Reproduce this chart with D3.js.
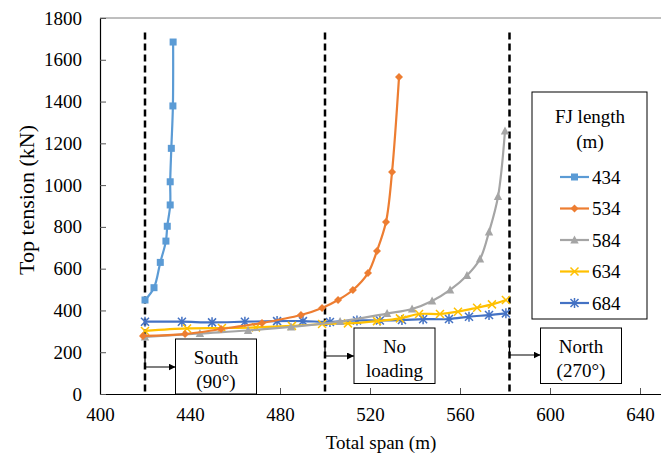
<!DOCTYPE html>
<html><head><meta charset="utf-8">
<script src="https://cdn.jsdelivr.net/npm/d3@7"></script>
<style>body{margin:0;background:#fff}svg{display:block}text{font-family:"Liberation Serif","Times New Roman",serif;fill:#000}</style>
</head><body><svg id="c" width="661" height="454"></svg>
<script>
const seriesNames = ["434","534","584","634","684"];
const seriesColors = ["#5B9BD5","#ED7D31","#A5A5A5","#FFC000","#4472C4"];
const seriesMarkers = ["square","diamond","triangle","x","star"];
const span434 = [420,424,426.8,429.3,429.9,431.2,431.2,431.7,432.4,432.5];
const ten434  = [450,509,630,732,803,905,1016,1176,1379,1685];
const span534 = [419.1,437.8,453.8,472,489.3,498.7,505.8,512.4,519.1,523.1,527.1,529.8,532.9];
const ten534  = [278,287,311,340,378,412,450,498,579,685,823,1063,1517];
const span584 = [420,444.4,465.8,484.9,506.7,527.6,538.7,547.6,555.6,563.1,568.9,572.9,576.9,580];
const ten584  = [273,290,304,321,347,385,407,445,498,567,646,776,945,1259];
const span634 = [420,438.7,454.2,469.3,485.3,498.7,510.2,523.1,533.3,541.8,551.1,559.1,567.6,574.2,580.4];
const ten634  = [302,314,316,319,326,335,338,349,362,383,383,394,413,429,450];
const span684 = [420,436.4,449.8,464.4,478.7,490.2,502.2,514.2,524.4,534.2,543.6,555.1,564,572.9,580.4];
const ten684  = [346,346,343,346,349,349,345,352,352,354,358,359,370,378,386];
const xTicks = [400,440,480,520,560,600,640];
const yTicks = [0,200,400,600,800,1000,1200,1400,1600,1800];
const dividers = [420,500,582];
const notes = [["South","(90°)"],["No","loading"],["North","(270°)"]];

const spans = [span434,span534,span584,span634,span684];
const tens = [ten434,ten534,ten584,ten634,ten684];

const svg = d3.select("#c");
const x = d3.scaleLinear().domain([400,650]).range([100,662.5]);
const y = d3.scaleLinear().domain([0,1800]).range([394,18]);
const ff = "'Liberation Serif','Times New Roman',serif";
const fs = 19;

svg.append("line").attr("x1",100).attr("x2",661).attr("y1",18).attr("y2",18).attr("stroke","#7f7f7f").attr("stroke-width",1);
const gx = svg.append("g").attr("transform","translate(0,394)")
  .call(d3.axisBottom(x).tickValues(xTicks).tickFormat(d3.format("d")).tickSizeInner(-6).tickSizeOuter(0).tickPadding(14));
gx.attr("font-family",ff).attr("font-size",fs);
gx.select(".domain").attr("stroke","#000").attr("stroke-width",1.2);
gx.selectAll(".tick line").attr("stroke","#555");
const gy = svg.append("g").attr("transform","translate(100,0)")
  .call(d3.axisLeft(y).tickValues(yTicks).tickFormat(d3.format("d")).tickSizeInner(-6).tickSizeOuter(0).tickPadding(18));
gy.attr("font-family",ff).attr("font-size",fs);
gy.select(".domain").attr("stroke","#000").attr("stroke-width",1.2);
gy.selectAll(".tick line").attr("stroke","#555");

svg.append("text").attr("x",381).attr("y",449).attr("text-anchor","middle").attr("font-size",fs).text("Total span (m)");
svg.append("text").attr("transform","translate(34,200) rotate(-90)").attr("text-anchor","middle").attr("font-size",22).text("Top tension (kN)");

svg.selectAll("line.div").data(dividers).enter().append("line").attr("class","div")
  .attr("x1",d=>x(d)).attr("x2",d=>x(d)).attr("y1",y(1730)).attr("y2",394)
  .attr("stroke","#000").attr("stroke-width",2.5).attr("stroke-dasharray","7,4");

function marker(g, type, color){
  if(type==="square") g.append("rect").attr("x",-3.5).attr("y",-3.5).attr("width",7).attr("height",7).attr("fill",color);
  else if(type==="diamond") g.append("path").attr("d","M0,-4L4,0L0,4L-4,0Z").attr("fill",color);
  else if(type==="triangle") g.append("path").attr("d","M0,-4.5L4.2,3.5L-4.2,3.5Z").attr("fill",color);
  else if(type==="x") g.append("path").attr("d","M-4,-4L4,4M-4,4L4,-4").attr("stroke",color).attr("stroke-width",1.5).attr("fill","none");
  else if(type==="star") g.append("path").attr("d","M-4,-4L4,4M-4,4L4,-4M0,-5L0,5").attr("stroke",color).attr("stroke-width",1.5).attr("fill","none");
}

for(let i=seriesNames.length-1;i>=0;i--){
  const pts = spans[i].map((s,j)=>[s,tens[i][j]]);
  const lgen = d3.line().x(d=>x(d[0])).y(d=>y(d[1])).curve(d3.curveCatmullRom.alpha(0.5));
  svg.append("path").attr("d",lgen(pts)).attr("fill","none").attr("stroke",seriesColors[i]).attr("stroke-width",2.2);
  pts.forEach(p=>{
    const g = svg.append("g").attr("transform",`translate(${x(p[0])},${y(p[1])})`);
    marker(g, seriesMarkers[i], seriesColors[i]);
  });
}

const lg = svg.append("g");
lg.append("rect").attr("x",532).attr("y",92).attr("width",115).attr("height",227).attr("fill","#fff").attr("stroke","#000").attr("stroke-width",1);
lg.append("text").attr("x",590).attr("y",123).attr("text-anchor","middle").attr("font-size",fs).text("FJ length");
lg.append("text").attr("x",590).attr("y",148).attr("text-anchor","middle").attr("font-size",fs).text("(m)");
seriesNames.forEach((n,i)=>{
  const cy = 177 + i*31.5;
  lg.append("line").attr("x1",560).attr("x2",589).attr("y1",cy).attr("y2",cy).attr("stroke",seriesColors[i]).attr("stroke-width",2.2);
  const g = lg.append("g").attr("transform",`translate(574.5,${cy})`);
  marker(g, seriesMarkers[i], seriesColors[i]);
  lg.append("text").attr("x",592).attr("y",cy+6.5).attr("font-size",fs).text(n);
});

const boxes = [
  {x0:175.5,x1:256.5,y0:339,y1:394,ay:367},
  {x0:354,x1:435,y0:328,y1:383.5,ay:356},
  {x0:540.5,x1:621.5,y0:328,y1:383.5,ay:355}
];
svg.append("defs").append("marker").attr("id","ah").attr("viewBox","0 0 10 10").attr("refX",10).attr("refY",5)
  .attr("markerWidth",7).attr("markerHeight",7).attr("markerUnits","userSpaceOnUse").attr("orient","auto")
  .append("path").attr("d","M0,0L10,5L0,10Z").attr("fill","#000");
boxes.forEach((b,i)=>{
  const dx = x(dividers[i]);
  svg.append("path").attr("d",`M${dx},${b.ay-12}L${dx},${b.ay}L${b.x0},${b.ay}`).attr("fill","none").attr("stroke","#000").attr("stroke-width",1.2).attr("marker-end","url(#ah)");
  svg.append("rect").attr("x",b.x0).attr("y",b.y0).attr("width",b.x1-b.x0).attr("height",b.y1-b.y0).attr("fill","#fff").attr("stroke","#000").attr("stroke-width",1);
  const cx=(b.x0+b.x1)/2;
  svg.append("text").attr("x",cx).attr("y",b.y0+25).attr("text-anchor","middle").attr("font-size",fs).text(notes[i][0]);
  svg.append("text").attr("x",cx).attr("y",b.y0+49).attr("text-anchor","middle").attr("font-size",fs).text(notes[i][1]);
});
</script></body></html>
